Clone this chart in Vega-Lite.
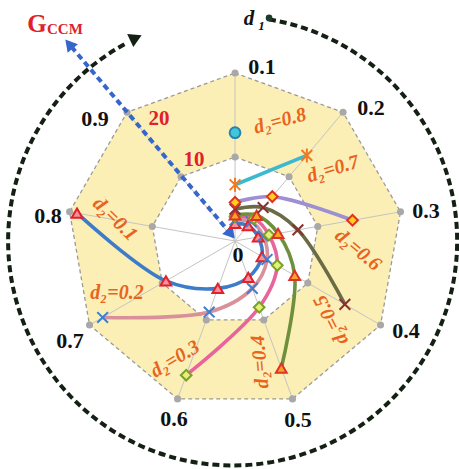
{
  "$schema": "https://vega.github.io/schema/vega-lite/v6.json",
  "width": 459,
  "height": 469,
  "autosize": {"type": "none"},
  "padding": 0,
  "background": "white",
  "config": {"view": {"stroke": null}},
  "datasets": {
    "outer": [
      {"k": 1, "x": 0, "y": 20},
      {"k": 2, "x": 12.856, "y": 15.321},
      {"k": 3, "x": 19.696, "y": 3.473},
      {"k": 4, "x": 17.321, "y": -10},
      {"k": 5, "x": 6.84, "y": -18.794},
      {"k": 6, "x": -6.84, "y": -18.794},
      {"k": 7, "x": -17.321, "y": -10},
      {"k": 8, "x": -19.696, "y": 3.473},
      {"k": 9, "x": -12.856, "y": 15.321}
    ],
    "inner": [
      {"k": 1, "x": 0, "y": 10},
      {"k": 2, "x": 6.428, "y": 7.66},
      {"k": 3, "x": 9.848, "y": 1.736},
      {"k": 4, "x": 8.66, "y": -5},
      {"k": 5, "x": 3.42, "y": -9.397},
      {"k": 6, "x": -3.42, "y": -9.397},
      {"k": 7, "x": -8.66, "y": -5},
      {"k": 8, "x": -9.848, "y": 1.736},
      {"k": 9, "x": -6.428, "y": 7.66}
    ],
    "series": [
      {"d2": "0.1", "k": 1, "G": 2.1, "x": 0, "y": 2.1},
      {"d2": "0.1", "k": 2, "G": 2.4, "x": 1.543, "y": 1.838},
      {"d2": "0.1", "k": 3, "G": 2.8, "x": 2.757, "y": 0.486},
      {"d2": "0.1", "k": 4, "G": 3.7, "x": 3.204, "y": -1.85},
      {"d2": "0.1", "k": 5, "G": 4.6, "x": 1.573, "y": -4.323},
      {"d2": "0.1", "k": 6, "G": 6.0, "x": -2.052, "y": -5.638},
      {"d2": "0.1", "k": 7, "G": 9.5, "x": -8.227, "y": -4.75},
      {"d2": "0.1", "k": 8, "G": 19.1, "x": -18.81, "y": 3.316},
      {"d2": "0.2", "k": 1, "G": 2.5, "x": 0, "y": 2.5},
      {"d2": "0.2", "k": 2, "G": 3.0, "x": 1.928, "y": 2.298},
      {"d2": "0.2", "k": 3, "G": 3.4, "x": 3.348, "y": 0.59},
      {"d2": "0.2", "k": 4, "G": 4.4, "x": 3.81, "y": -2.2},
      {"d2": "0.2", "k": 5, "G": 6.0, "x": 2.052, "y": -5.638},
      {"d2": "0.2", "k": 6, "G": 9.0, "x": -3.078, "y": -8.457},
      {"d2": "0.2", "k": 7, "G": 18.2, "x": -15.761, "y": -9.1},
      {"d2": "0.3", "k": 1, "G": 2.9, "x": 0, "y": 2.9},
      {"d2": "0.3", "k": 2, "G": 3.5, "x": 2.25, "y": 2.681},
      {"d2": "0.3", "k": 3, "G": 4.1, "x": 4.038, "y": 0.712},
      {"d2": "0.3", "k": 4, "G": 5.8, "x": 5.023, "y": -2.9},
      {"d2": "0.3", "k": 5, "G": 8.4, "x": 2.873, "y": -7.893},
      {"d2": "0.3", "k": 6, "G": 17.0, "x": -5.814, "y": -15.975},
      {"d2": "0.4", "k": 1, "G": 3.1, "x": 0, "y": 3.1},
      {"d2": "0.4", "k": 2, "G": 4.0, "x": 2.571, "y": 3.064},
      {"d2": "0.4", "k": 3, "G": 5.2, "x": 5.121, "y": 0.903},
      {"d2": "0.4", "k": 4, "G": 8.2, "x": 7.101, "y": -4.1},
      {"d2": "0.4", "k": 5, "G": 16.1, "x": 5.506, "y": -15.129},
      {"d2": "0.5", "k": 1, "G": 3.8, "x": 0, "y": 3.8},
      {"d2": "0.5", "k": 2, "G": 5.2, "x": 3.343, "y": 3.983},
      {"d2": "0.5", "k": 3, "G": 7.6, "x": 7.484, "y": 1.319},
      {"d2": "0.5", "k": 4, "G": 15.1, "x": 13.077, "y": -7.55},
      {"d2": "0.6", "k": 1, "G": 4.6, "x": 0, "y": 4.6},
      {"d2": "0.6", "k": 2, "G": 6.9, "x": 4.435, "y": 5.285},
      {"d2": "0.6", "k": 3, "G": 14.2, "x": 13.984, "y": 2.465},
      {"d2": "0.7", "k": 1, "G": 6.7, "x": 0, "y": 6.7},
      {"d2": "0.7", "k": 2, "G": 13.3, "x": 8.549, "y": 10.188},
      {"d2": "0.8", "k": 1, "G": 12.9, "x": 0, "y": 12.9}
    ]
  },
  "layer": [
    {
      "data": {"name": "outer"},
      "mark": {"type": "line", "interpolate": "linear-closed", "fill": "#fbefb6", "stroke": "#9a9a9a", "strokeWidth": 1.3, "strokeDash": [4, 3]},
      "encoding": {
        "x": {"field": "x", "type": "quantitative", "scale": {"domain": [-27.98, 26.66], "nice": false, "zero": false}, "axis": null},
        "y": {"field": "y", "type": "quantitative", "scale": {"domain": [-27.14, 28.69], "nice": false, "zero": false}, "axis": null},
        "order": {"field": "k"}
      }
    },
    {
      "data": {"name": "inner"},
      "mark": {"type": "line", "interpolate": "linear-closed", "fill": "#ffffff", "stroke": "#9a9a9a", "strokeWidth": 1.3, "strokeDash": [4, 3]},
      "encoding": {
        "x": {"field": "x", "type": "quantitative", "scale": {"domain": [-27.98, 26.66], "nice": false, "zero": false}, "axis": null},
        "y": {"field": "y", "type": "quantitative", "scale": {"domain": [-27.14, 28.69], "nice": false, "zero": false}, "axis": null},
        "order": {"field": "k"}
      }
    },
    {
      "data": {"name": "outer"},
      "mark": {"type": "rule", "stroke": "#c4c4c4", "strokeWidth": 1},
      "encoding": {
        "x": {"field": "x", "type": "quantitative", "scale": {"domain": [-27.98, 26.66], "nice": false, "zero": false}, "axis": null},
        "y": {"field": "y", "type": "quantitative", "scale": {"domain": [-27.14, 28.69], "nice": false, "zero": false}, "axis": null},
        "x2": {"datum": 0},
        "y2": {"datum": 0}
      }
    },
    {
      "data": {"name": "outer"},
      "mark": {"type": "point", "filled": true, "color": "#a8a8a8", "size": 50, "opacity": 1},
      "encoding": {
        "x": {"field": "x", "type": "quantitative", "scale": {"domain": [-27.98, 26.66], "nice": false, "zero": false}, "axis": null},
        "y": {"field": "y", "type": "quantitative", "scale": {"domain": [-27.14, 28.69], "nice": false, "zero": false}, "axis": null}
      }
    },
    {
      "data": {"name": "inner"},
      "mark": {"type": "point", "filled": true, "color": "#a8a8a8", "size": 50, "opacity": 1},
      "encoding": {
        "x": {"field": "x", "type": "quantitative", "scale": {"domain": [-27.98, 26.66], "nice": false, "zero": false}, "axis": null},
        "y": {"field": "y", "type": "quantitative", "scale": {"domain": [-27.14, 28.69], "nice": false, "zero": false}, "axis": null}
      }
    },
    {
      "data": {"values": [{"x": -0.3, "y": 0}]},
      "mark": {"type": "point", "shape": "M 0.162 -0.987 A 1 1 0 1 1 -0.469 -0.883", "size": 201601, "filled": false, "stroke": "#142014", "strokeWidth": 4, "strokeDash": [7, 4], "opacity": 1},
      "encoding": {
        "x": {"field": "x", "type": "quantitative", "scale": {"domain": [-27.98, 26.66], "nice": false, "zero": false}, "axis": null},
        "y": {"field": "y", "type": "quantitative", "scale": {"domain": [-27.14, 28.69], "nice": false, "zero": false}, "axis": null}
      }
    },
    {
      "data": {"values": [{"x": -11.8, "y": 24.18}]},
      "mark": {"type": "point", "shape": "triangle-right", "angle": -25, "size": 210, "filled": true, "color": "#142014", "opacity": 1},
      "encoding": {
        "x": {"field": "x", "type": "quantitative", "scale": {"domain": [-27.98, 26.66], "nice": false, "zero": false}, "axis": null},
        "y": {"field": "y", "type": "quantitative", "scale": {"domain": [-27.14, 28.69], "nice": false, "zero": false}, "axis": null}
      }
    },
    {
      "data": {"values": [{"x": 4.05, "y": 26.55}]},
      "mark": {"type": "point", "filled": true, "color": "#1b3d2b", "size": 45, "opacity": 1},
      "encoding": {
        "x": {"field": "x", "type": "quantitative", "scale": {"domain": [-27.98, 26.66], "nice": false, "zero": false}, "axis": null},
        "y": {"field": "y", "type": "quantitative", "scale": {"domain": [-27.14, 28.69], "nice": false, "zero": false}, "axis": null}
      }
    },
    {
      "data": {"values": [{"x": -0.48, "y": 0.83, "x2": -19.76, "y2": 23.45}]},
      "mark": {"type": "rule", "stroke": "#3566cc", "strokeWidth": 4, "strokeDash": [6, 4]},
      "encoding": {
        "x": {"field": "x", "type": "quantitative", "scale": {"domain": [-27.98, 26.66], "nice": false, "zero": false}, "axis": null},
        "y": {"field": "y", "type": "quantitative", "scale": {"domain": [-27.14, 28.69], "nice": false, "zero": false}, "axis": null},
        "x2": {"field": "x2"},
        "y2": {"field": "y2"}
      }
    },
    {
      "data": {"values": [{"x": -19.76, "y": 23.45}]},
      "mark": {"type": "point", "shape": "triangle-right", "angle": -130, "size": 180, "filled": true, "color": "#3566cc", "opacity": 1},
      "encoding": {
        "x": {"field": "x", "type": "quantitative", "scale": {"domain": [-27.98, 26.66], "nice": false, "zero": false}, "axis": null},
        "y": {"field": "y", "type": "quantitative", "scale": {"domain": [-27.14, 28.69], "nice": false, "zero": false}, "axis": null}
      }
    },
    {
      "data": {"values": [{"x": -0.48, "y": 0.83}]},
      "mark": {"type": "point", "shape": "triangle-right", "angle": 50, "size": 180, "filled": true, "color": "#3566cc", "opacity": 1},
      "encoding": {
        "x": {"field": "x", "type": "quantitative", "scale": {"domain": [-27.98, 26.66], "nice": false, "zero": false}, "axis": null},
        "y": {"field": "y", "type": "quantitative", "scale": {"domain": [-27.14, 28.69], "nice": false, "zero": false}, "axis": null}
      }
    },
    {
      "data": {"name": "series"},
      "mark": {"type": "line", "interpolate": "catmull-rom", "strokeWidth": 3.6},
      "encoding": {
        "x": {"field": "x", "type": "quantitative", "scale": {"domain": [-27.98, 26.66], "nice": false, "zero": false}, "axis": null},
        "y": {"field": "y", "type": "quantitative", "scale": {"domain": [-27.14, 28.69], "nice": false, "zero": false}, "axis": null},
        "color": {"field": "d2", "type": "nominal", "legend": null, "scale": {"domain": ["0.1", "0.2", "0.3", "0.4", "0.5", "0.6", "0.7", "0.8"], "range": ["#3d7cc9", "#d9909a", "#e8649a", "#6e8f3c", "#6b6b46", "#9d8fd2", "#3cb9d0", "#3cb9d0"]}},
        "order": {"field": "k"}
      }
    },
    {
      "data": {"name": "series"},
      "mark": {"type": "point", "filled": true, "size": 115, "strokeWidth": 2, "opacity": 1},
      "encoding": {
        "x": {"field": "x", "type": "quantitative", "scale": {"domain": [-27.98, 26.66], "nice": false, "zero": false}, "axis": null},
        "y": {"field": "y", "type": "quantitative", "scale": {"domain": [-27.14, 28.69], "nice": false, "zero": false}, "axis": null},
        "shape": {"field": "d2", "type": "nominal", "legend": null, "scale": {"domain": ["0.1", "0.2", "0.3", "0.4", "0.5", "0.6", "0.7", "0.8"], "range": ["triangle-up", "M-1,-1L1,1M-1,1L1,-1", "diamond", "triangle-up", "M-1,-1L1,1M-1,1L1,-1", "diamond", "M-1,-1L1,1M-1,1L1,-1M0,-1.3L0,1.3", "circle"]}},
        "fill": {"field": "d2", "type": "nominal", "legend": null, "scale": {"domain": ["0.1", "0.2", "0.3", "0.4", "0.5", "0.6", "0.7", "0.8"], "range": ["#f4919a", "transparent", "#e4f07a", "#f5a623", "transparent", "#ffd21a", "transparent", "#40c8d8"]}},
        "stroke": {"field": "d2", "type": "nominal", "legend": null, "scale": {"domain": ["0.1", "0.2", "0.3", "0.4", "0.5", "0.6", "0.7", "0.8"], "range": ["#e0202a", "#3a7fd0", "#7aa028", "#e0302a", "#8a3030", "#e0302a", "#f07a20", "#2a80b0"]}}
      }
    },
    {
      "data": {"values": [
        {"label": "0.1", "x": 3.21, "y": 20.71},
        {"label": "0.2", "x": 16.19, "y": 15.83},
        {"label": "0.3", "x": 22.74, "y": 3.57},
        {"label": "0.4", "x": 20.36, "y": -10.71},
        {"label": "0.5", "x": 7.5, "y": -21.31},
        {"label": "0.6", "x": -7.26, "y": -21.19},
        {"label": "0.7", "x": -19.64, "y": -11.9},
        {"label": "0.8", "x": -22.26, "y": 2.98},
        {"label": "0.9", "x": -16.67, "y": 14.52},
        {"label": "0", "x": 0.36, "y": -1.67}
      ]},
      "mark": {"type": "text", "font": "Liberation Serif", "fontWeight": "bold", "fontSize": 22, "color": "#111111", "align": "center", "baseline": "middle"},
      "encoding": {
        "x": {"field": "x", "type": "quantitative", "scale": {"domain": [-27.98, 26.66], "nice": false, "zero": false}, "axis": null},
        "y": {"field": "y", "type": "quantitative", "scale": {"domain": [-27.14, 28.69], "nice": false, "zero": false}, "axis": null},
        "text": {"field": "label"}
      }
    },
    {
      "data": {"values": [
        {"label": "20", "x": -9.05, "y": 14.52},
        {"label": "10", "x": -4.88, "y": 9.64}
      ]},
      "mark": {"type": "text", "font": "Liberation Serif", "fontWeight": "bold", "fontSize": 21, "color": "#e0202a", "align": "center", "baseline": "middle"},
      "encoding": {
        "x": {"field": "x", "type": "quantitative", "scale": {"domain": [-27.98, 26.66], "nice": false, "zero": false}, "axis": null},
        "y": {"field": "y", "type": "quantitative", "scale": {"domain": [-27.14, 28.69], "nice": false, "zero": false}, "axis": null},
        "text": {"field": "label"}
      }
    },
    {
      "data": {"values": [{"label": "G", "x": -23.57, "y": 25.83}]},
      "mark": {"type": "text", "font": "Liberation Serif", "fontWeight": "bold", "fontSize": 25, "color": "#e0202a", "align": "center", "baseline": "middle"},
      "encoding": {
        "x": {"field": "x", "type": "quantitative", "scale": {"domain": [-27.98, 26.66], "nice": false, "zero": false}, "axis": null},
        "y": {"field": "y", "type": "quantitative", "scale": {"domain": [-27.14, 28.69], "nice": false, "zero": false}, "axis": null},
        "text": {"field": "label"}
      }
    },
    {
      "data": {"values": [{"label": "CCM", "x": -22.38, "y": 25.2}]},
      "mark": {"type": "text", "font": "Liberation Serif", "fontWeight": "bold", "fontSize": 15, "color": "#e0202a", "align": "left", "baseline": "middle"},
      "encoding": {
        "x": {"field": "x", "type": "quantitative", "scale": {"domain": [-27.98, 26.66], "nice": false, "zero": false}, "axis": null},
        "y": {"field": "y", "type": "quantitative", "scale": {"domain": [-27.14, 28.69], "nice": false, "zero": false}, "axis": null},
        "text": {"field": "label"}
      }
    },
    {
      "data": {"values": [{"label": "d", "x": 1.67, "y": 26.43}]},
      "mark": {"type": "text", "font": "Liberation Serif", "fontWeight": "bold", "fontStyle": "italic", "fontSize": 21, "color": "#111111", "align": "center", "baseline": "middle"},
      "encoding": {
        "x": {"field": "x", "type": "quantitative", "scale": {"domain": [-27.98, 26.66], "nice": false, "zero": false}, "axis": null},
        "y": {"field": "y", "type": "quantitative", "scale": {"domain": [-27.14, 28.69], "nice": false, "zero": false}, "axis": null},
        "text": {"field": "label"}
      }
    },
    {
      "data": {"values": [{"label": "1", "x": 3.15, "y": 25.65}]},
      "mark": {"type": "text", "font": "Liberation Serif", "fontWeight": "bold", "fontStyle": "italic", "fontSize": 13, "color": "#111111", "align": "center", "baseline": "middle"},
      "encoding": {
        "x": {"field": "x", "type": "quantitative", "scale": {"domain": [-27.98, 26.66], "nice": false, "zero": false}, "axis": null},
        "y": {"field": "y", "type": "quantitative", "scale": {"domain": [-27.14, 28.69], "nice": false, "zero": false}, "axis": null},
        "text": {"field": "label"}
      }
    },
    {
      "data": {"values": [{"label": "d₂=0.8", "x": 5.36, "y": 14.29}]},
      "mark": {"type": "text", "angle": -15, "font": "Liberation Serif", "fontWeight": "bold", "fontStyle": "italic", "fontSize": 20, "color": "#e8641e", "align": "center", "baseline": "middle"},
      "encoding": {
        "x": {"field": "x", "type": "quantitative", "scale": {"domain": [-27.98, 26.66], "nice": false, "zero": false}, "axis": null},
        "y": {"field": "y", "type": "quantitative", "scale": {"domain": [-27.14, 28.69], "nice": false, "zero": false}, "axis": null},
        "text": {"field": "label"}
      }
    },
    {
      "data": {"values": [{"label": "d₂=0.7", "x": 11.67, "y": 8.57}]},
      "mark": {"type": "text", "angle": -17, "font": "Liberation Serif", "fontWeight": "bold", "fontStyle": "italic", "fontSize": 20, "color": "#e8641e", "align": "center", "baseline": "middle"},
      "encoding": {
        "x": {"field": "x", "type": "quantitative", "scale": {"domain": [-27.98, 26.66], "nice": false, "zero": false}, "axis": null},
        "y": {"field": "y", "type": "quantitative", "scale": {"domain": [-27.14, 28.69], "nice": false, "zero": false}, "axis": null},
        "text": {"field": "label"}
      }
    },
    {
      "data": {"values": [{"label": "d₂=0.6", "x": 14.64, "y": -1.07}]},
      "mark": {"type": "text", "angle": 40, "font": "Liberation Serif", "fontWeight": "bold", "fontStyle": "italic", "fontSize": 20, "color": "#e8641e", "align": "center", "baseline": "middle"},
      "encoding": {
        "x": {"field": "x", "type": "quantitative", "scale": {"domain": [-27.98, 26.66], "nice": false, "zero": false}, "axis": null},
        "y": {"field": "y", "type": "quantitative", "scale": {"domain": [-27.14, 28.69], "nice": false, "zero": false}, "axis": null},
        "text": {"field": "label"}
      }
    },
    {
      "data": {"values": [{"label": "d₂=0.5", "x": 11.43, "y": -9.4}]},
      "mark": {"type": "text", "angle": 243, "font": "Liberation Serif", "fontWeight": "bold", "fontStyle": "italic", "fontSize": 20, "color": "#e8641e", "align": "center", "baseline": "middle"},
      "encoding": {
        "x": {"field": "x", "type": "quantitative", "scale": {"domain": [-27.98, 26.66], "nice": false, "zero": false}, "axis": null},
        "y": {"field": "y", "type": "quantitative", "scale": {"domain": [-27.14, 28.69], "nice": false, "zero": false}, "axis": null},
        "text": {"field": "label"}
      }
    },
    {
      "data": {"values": [{"label": "d₂=0.4", "x": 2.98, "y": -14.4}]},
      "mark": {"type": "text", "angle": 265, "font": "Liberation Serif", "fontWeight": "bold", "fontStyle": "italic", "fontSize": 20, "color": "#e8641e", "align": "center", "baseline": "middle"},
      "encoding": {
        "x": {"field": "x", "type": "quantitative", "scale": {"domain": [-27.98, 26.66], "nice": false, "zero": false}, "axis": null},
        "y": {"field": "y", "type": "quantitative", "scale": {"domain": [-27.14, 28.69], "nice": false, "zero": false}, "axis": null},
        "text": {"field": "label"}
      }
    },
    {
      "data": {"values": [{"label": "d₂=0.3", "x": -7.14, "y": -14.05}]},
      "mark": {"type": "text", "angle": -31, "font": "Liberation Serif", "fontWeight": "bold", "fontStyle": "italic", "fontSize": 20, "color": "#e8641e", "align": "center", "baseline": "middle"},
      "encoding": {
        "x": {"field": "x", "type": "quantitative", "scale": {"domain": [-27.98, 26.66], "nice": false, "zero": false}, "axis": null},
        "y": {"field": "y", "type": "quantitative", "scale": {"domain": [-27.14, 28.69], "nice": false, "zero": false}, "axis": null},
        "text": {"field": "label"}
      }
    },
    {
      "data": {"values": [{"label": "d₂=0.2", "x": -14.05, "y": -6.19}]},
      "mark": {"type": "text", "angle": 0, "font": "Liberation Serif", "fontWeight": "bold", "fontStyle": "italic", "fontSize": 20, "color": "#e8641e", "align": "center", "baseline": "middle"},
      "encoding": {
        "x": {"field": "x", "type": "quantitative", "scale": {"domain": [-27.98, 26.66], "nice": false, "zero": false}, "axis": null},
        "y": {"field": "y", "type": "quantitative", "scale": {"domain": [-27.14, 28.69], "nice": false, "zero": false}, "axis": null},
        "text": {"field": "label"}
      }
    },
    {
      "data": {"values": [{"label": "d₂=0.1", "x": -14.29, "y": 2.62}]},
      "mark": {"type": "text", "angle": 44, "font": "Liberation Serif", "fontWeight": "bold", "fontStyle": "italic", "fontSize": 20, "color": "#e8641e", "align": "center", "baseline": "middle"},
      "encoding": {
        "x": {"field": "x", "type": "quantitative", "scale": {"domain": [-27.98, 26.66], "nice": false, "zero": false}, "axis": null},
        "y": {"field": "y", "type": "quantitative", "scale": {"domain": [-27.14, 28.69], "nice": false, "zero": false}, "axis": null},
        "text": {"field": "label"}
      }
    }
  ]
}
